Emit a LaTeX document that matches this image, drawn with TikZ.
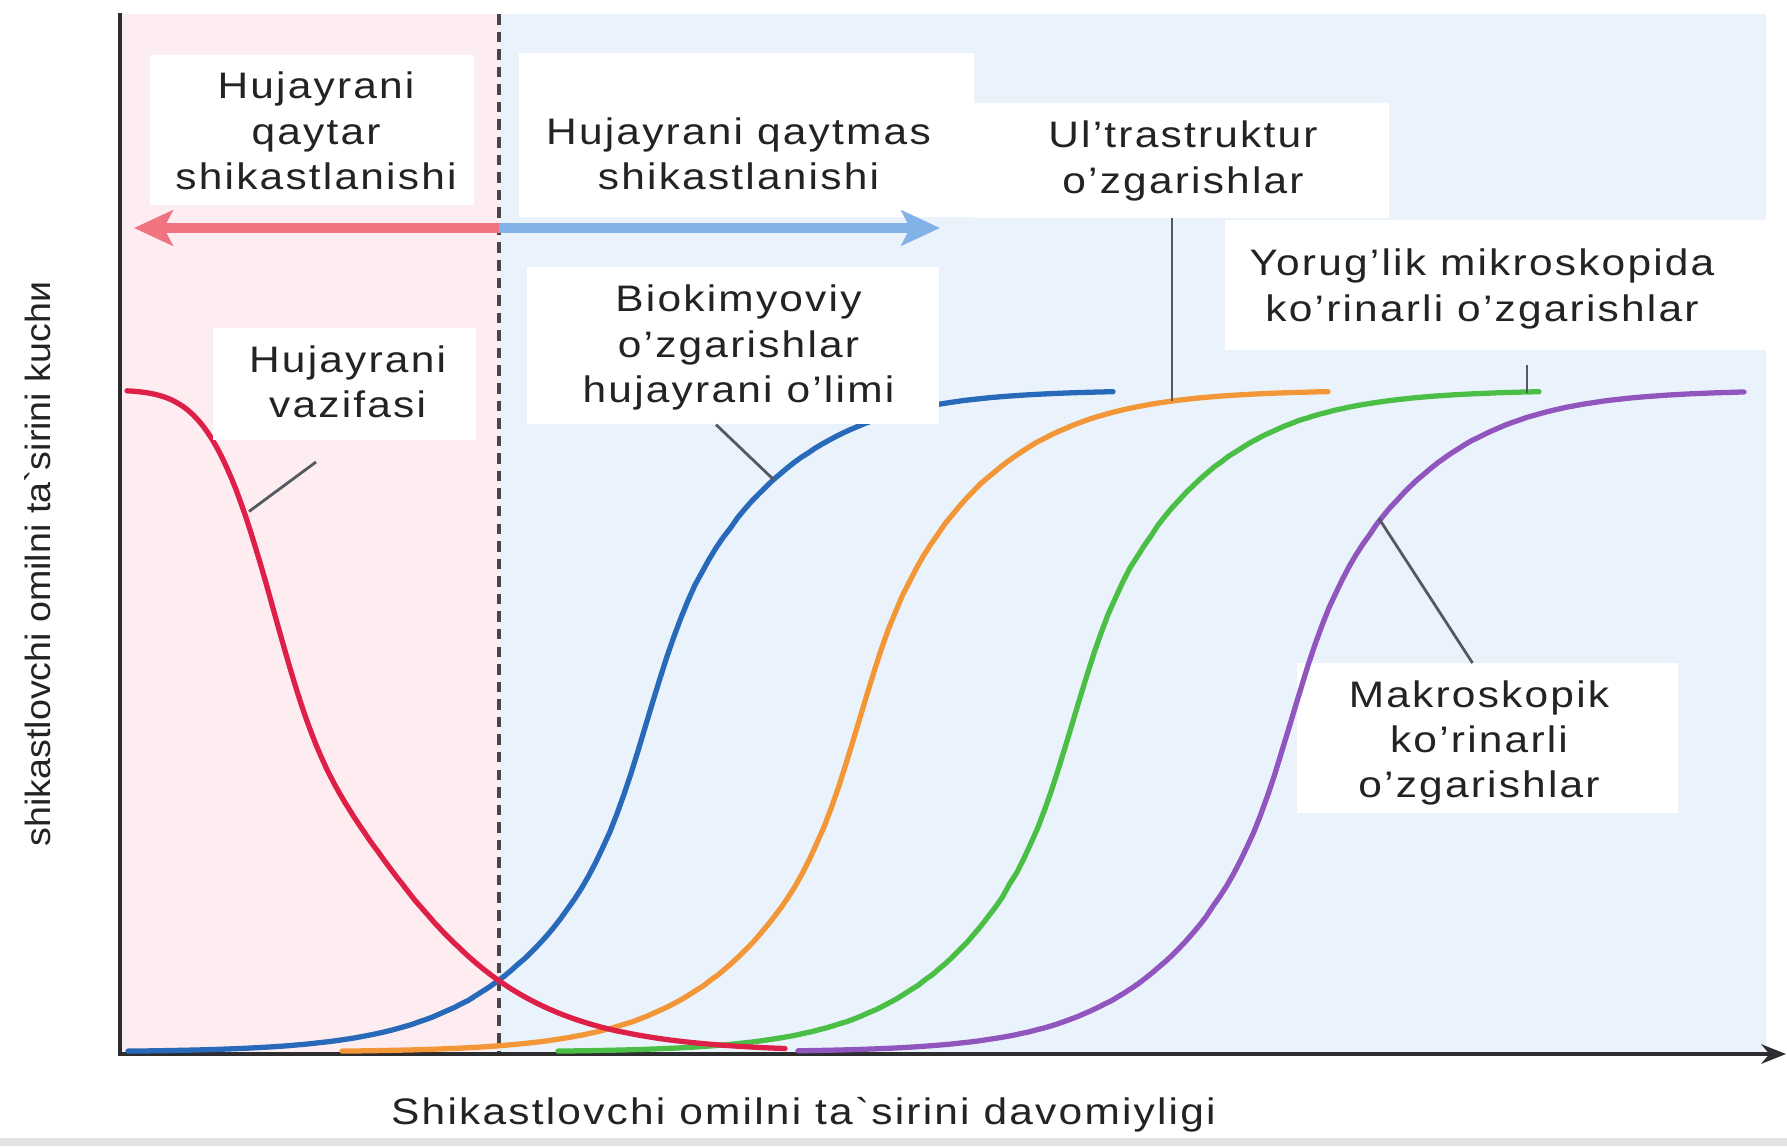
\documentclass[tikz,border=0pt]{standalone}
\usepackage{fontspec}
\setmainfont{Liberation Sans}
\newfontfamily\lblfont[FakeStretch=1.15,LetterSpace=6]{Liberation Sans}
\newfontfamily\ylblfont[FakeStretch=1.07]{Liberation Sans}
\usetikzlibrary{arrows.meta}
\definecolor{pinkbg}{RGB}{253,236,240}
\definecolor{bluebg}{RGB}{234,243,252}
\definecolor{cred}{RGB}{222,32,72}
\definecolor{cblue}{RGB}{40,105,185}
\definecolor{corange}{RGB}{243,150,55}
\definecolor{cgreen}{RGB}{75,190,70}
\definecolor{cpurple}{RGB}{145,85,190}
\definecolor{arrred}{RGB}{240,115,130}
\definecolor{arrblue}{RGB}{130,178,232}
\definecolor{leadc}{RGB}{85,90,98}
\definecolor{txtc}{RGB}{35,35,35}
\definecolor{axisc}{RGB}{45,45,48}
\begin{document}
\begin{tikzpicture}[x=0.02cm,y=-0.02cm,
  curve/.style={line width=3pt, line cap=round},
  wbox/.style={fill=white, draw=none},
  lbl/.style={text=txtc, align=center, inner sep=0pt, font=\lblfont\fontsize{21}{25.8}\selectfont},
  leader/.style={draw=leadc, line width=1.6pt},
  bigarrow/.style={line width=6pt, -{Stealth[length=22pt,width=20pt,inset=5pt]}},
]
\useasboundingbox (0,0) rectangle (1787,1146);
\fill[white] (0,0) rectangle (1787,1146);
\fill[pinkbg] (120,14) rectangle (499,1052);
\fill[bluebg] (499,14) rectangle (1766,1052);
\fill[gray!22] (0,1138) rectangle (1787,1146);

% dashed separator
\coordinate (dtop) at (499,14);
\coordinate (dbot) at (499,1052);
\draw[line width=2pt, dash pattern=on 6pt off 4pt, draw=black!72] (dtop) -- (dbot);

% axes
\coordinate (ytop) at (120,13);
\coordinate (orig) at (120,1054);
\coordinate (xend) at (1786,1054);
\draw[line width=2.5pt, axisc, -{Stealth[length=14pt,width=11pt]}] (ytop) -- (orig) -- (xend);

% box under purple
\fill[wbox] (1297,663) rectangle (1678,813);

% rising curves
\foreach \m/\s/\e/\c in {647/128/1113/cblue, 859/342/1328/corange, 1073/558/1539/cgreen, 1291/798/1744/cpurple}{
  \draw[curve, \c] plot[domain=\s:\e, samples=140, variable=\t]
    ({\t}, {1052 - 662*(0.5 + 0.5*tanh((\t-\m)*(0.0063 + 0.0039/(1+((\t-\m)/75.5)^2))))});
}
% red falling curve
\draw[curve, cred] plot[domain=127:785, samples=140, variable=\t]
  ({\t}, {1052 - 662*(0.5 - 0.5*tanh((\t-307)*(0.0085 - 0.0030*tanh((\t-307)/50) + ((\t-307)/3015)^2*(1-tanh((\t-307)/50)))))});

% white label boxes
\fill[wbox] (150,55) rectangle (474,205);
\fill[wbox] (519,53) rectangle (974,217);
\fill[wbox] (974,103) rectangle (1389,218);
\fill[wbox] (1225,220) rectangle (1766,350);
\fill[wbox] (213,328) rectangle (476,440);
\fill[wbox] (527,267) rectangle (939,424);

% arrows
\coordinate (split) at (499,228);
\coordinate (redtip) at (134,228);
\coordinate (bluetip) at (940,228);
\draw[bigarrow, arrred] (split) -- (redtip);
\draw[bigarrow, arrblue] (split) -- (bluetip);

% labels
\node[lbl] (lq) at (316,131) {Hujayrani\\qaytar\\shikastlanishi};
\node[lbl] (lqm) at (738.5,154) {Hujayrani qaytmas\\shikastlanishi};
\node[lbl] (lul) at (1183,161) {Ul’trastruktur\\o’zgarishlar};
\node[lbl] (lyo) at (1482,289) {Yorug’lik mikroskopida\\ko’rinarli o’zgarishlar};
\node[lbl] (lvz) at (347.6,382) {Hujayrani\\vazifasi};
\node[lbl] (lbk) at (738.5,347.6) {Biokimyoviy\\o’zgarishlar\\hujayrani o’limi};
\node[lbl] (lmk) at (1479,743) {Makroskopik\\ko’rinarli\\o’zgarishlar};
\node[lbl] (xl) at (803.5,1114.6) {Shikastlovchi omilni ta`sirini davomiyligi};
\node[text=txtc, inner sep=0pt, rotate=90, font=\ylblfont\fontsize{20}{24}\selectfont] (yl) at (37.6,564) {shikastlovchi omilni ta`sirini kuchи};

% leader lines
\coordinate (a5) at (316,462);   \coordinate (b5) at (249,511.5);
\coordinate (a6) at (716,424.6); \coordinate (b6) at (774,480);
\coordinate (a3) at (1172,218);  \coordinate (b3) at (1172,401);
\coordinate (a4) at (1527,365);  \coordinate (b4) at (1527,393);
\coordinate (a7) at (1472.5,663);\coordinate (b7) at (1379,518.6);
\draw[leader] (a5) -- (b5);
\draw[leader] (a6) -- (b6);
\draw[leader] (a3) -- (b3);
\draw[leader] (a4) -- (b4);
\draw[leader] (a7) -- (b7);
\end{tikzpicture}
\end{document}
